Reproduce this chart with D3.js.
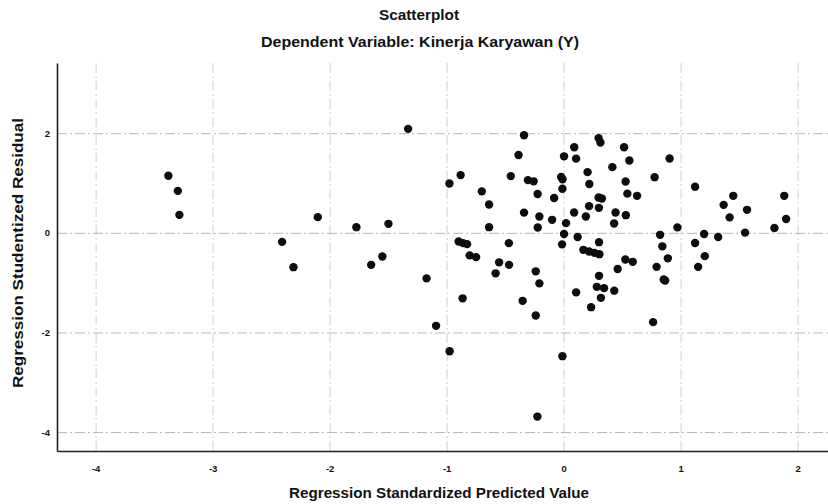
<!DOCTYPE html>
<html>
<head>
<meta charset="utf-8">
<script src="https://cdn.jsdelivr.net/npm/d3@7/dist/d3.min.js"></script>
<style>
  html, body { margin: 0; padding: 0; background: #fff; }
  svg { display: block; }
  text { font-family: "Liberation Sans", Arial, sans-serif; font-weight: bold; fill: #111; }
</style>
</head>
<body>
<svg id="chart" width="828" height="504"></svg>
<script>
// Regression Standardized Predicted Value (x) for each case
const predicted = [
  -3.378, -3.297, -3.284, -2.406, -2.309, -2.101, -1.771, -1.645, -1.549, -1.497,
  -1.329, -1.171, -1.090, -0.974, -0.976, -0.880, -0.897, -0.859, -0.825, -0.803,
  -0.748, -0.863, -0.699, -0.637, -0.637, -0.581, -0.551, -0.466, -0.468, -0.451,
  -0.385, -0.338, -0.338, -0.350, -0.305, -0.256, -0.222, -0.207, -0.221, -0.238,
  -0.207, -0.238, -0.224, -0.098, -0.081, -0.021, -0.009, -0.010, 0.004, 0.021,
  0.004, -0.013, -0.010, 0.090, 0.091, 0.107, 0.120, 0.107, 0.190, 0.205,
  0.220, 0.218, 0.169, 0.218, 0.263, 0.306, 0.235, 0.299, 0.315, 0.299,
  0.327, 0.302, 0.303, 0.303, 0.284, 0.346, 0.319, 0.417, 0.444, 0.432,
  0.433, 0.462, 0.517, 0.562, 0.530, 0.545, 0.628, 0.532, 0.528, 0.591,
  0.778, 0.906, 0.825, 0.844, 0.891, 0.795, 0.868, 0.856, 0.765, 0.973,
  1.124, 1.124, 1.201, 1.207, 1.150, 1.321, 1.368, 1.419, 1.450, 1.568,
  1.551, 1.802, 1.886, 1.902
];

// Regression Studentized Residual (y) for each case
const residual = [
  1.145, 0.843, 0.361, -0.181, -0.689, 0.315, 0.114, -0.643, -0.476, 0.181,
  2.088, -0.914, -1.867, -2.376, 0.990, 1.159, -0.175, -0.207, -0.227, -0.452,
  -0.488, -1.315, 0.833, 0.568, 0.114, -0.813, -0.592, -0.643, -0.207, 1.139,
  1.562, 1.958, 0.406, -1.365, 1.058, 1.034, 0.779, 0.327, 0.106, -0.773,
  -1.014, -1.661, -3.689, 0.261, 0.699, 1.120, 1.075, 0.884, 1.536, 0.195,
  -0.024, -0.231, -2.476, 0.408, 1.717, 1.490, -0.084, -1.195, 0.327, 1.219,
  0.980, 0.536, -0.341, -0.376, -0.402, -0.428, -1.492, 1.902, 1.813, 0.709,
  0.689, 0.502, -0.187, -0.863, -1.084, -1.110, -1.305, 1.319, 0.408, 0.187,
  -1.161, -0.727, 1.717, 1.452, 1.030, 0.787, 0.743, 0.355, -0.536, -0.582,
  1.118, 1.492, -0.040, -0.271, -0.512, -0.683, -0.958, -0.935, -1.793, 0.110,
  0.924, -0.205, -0.024, -0.468, -0.683, -0.084, 0.562, 0.311, 0.743, 0.462,
  0.004, 0.096, 0.743, 0.277
];

const xTicks = [-4, -3, -2, -1, 0, 1, 2];
const yTicks = [-4, -2, 0, 2];

const chartTitle = "Scatterplot";
const chartSubtitle = "Dependent Variable: Kinerja Karyawan (Y)";
const xTitle = "Regression Standardized Predicted Value";
const yTitle = "Regression Studentized Residual";

const points = predicted.map((p, i) => ({ x: p, y: residual[i] }));

const svg = d3.select("#chart");
const plot = { left: 57, right: 828, top: 63, bottom: 451 };

const x = d3.scaleLinear().domain([-4.33, 2.26]).range([plot.left, plot.right]);
const y = d3.scaleLinear().domain([-4.38, 3.41]).range([plot.bottom, plot.top]);

// Reference grid: dash-dot lines at every tick
const gridDash = "10,3,2,3";

svg.append("g")
  .attr("transform", `translate(0,${plot.bottom})`)
  .call(d3.axisBottom(x).tickValues(xTicks).tickSize(-(plot.bottom - plot.top)).tickFormat(""))
  .call(g => g.select(".domain").remove())
  .call(g => g.selectAll(".tick line")
    .attr("stroke", "#a8a8a8").attr("stroke-width", 0.9)
    .attr("stroke-dasharray", gridDash).attr("opacity", 0.6));

svg.append("g")
  .attr("transform", `translate(${plot.left},0)`)
  .call(d3.axisLeft(y).tickValues(yTicks).tickSize(-(plot.right - plot.left)).tickFormat(""))
  .call(g => g.select(".domain").remove())
  .call(g => g.selectAll(".tick line")
    .attr("stroke", "#999").attr("stroke-width", 1)
    .attr("stroke-dasharray", gridDash).attr("opacity", 0.7));

// Axes with labels
svg.append("g")
  .attr("transform", `translate(0,${plot.bottom})`)
  .call(d3.axisBottom(x).tickValues(xTicks).tickSize(0).tickPadding(14).tickFormat(d => String(d)))
  .call(g => g.select(".domain").attr("stroke", "#222").attr("stroke-width", 1.6))
  .call(g => g.selectAll(".tick text").attr("font-size", 9.5).attr("font-family", "Liberation Sans, Arial, sans-serif").attr("font-weight", "bold").attr("fill", "#111"));

svg.append("g")
  .attr("transform", `translate(${plot.left},0)`)
  .call(d3.axisLeft(y).tickValues(yTicks).tickSize(0).tickPadding(7).tickFormat(d => String(d)))
  .call(g => g.select(".domain").attr("stroke", "#222").attr("stroke-width", 1.6))
  .call(g => g.selectAll(".tick text").attr("font-size", 9.5).attr("font-family", "Liberation Sans, Arial, sans-serif").attr("font-weight", "bold").attr("fill", "#111"));

// Data points
svg.append("g")
  .selectAll("circle")
  .data(points)
  .join("circle")
  .attr("cx", d => x(d.x))
  .attr("cy", d => y(d.y))
  .attr("r", 4.2)
  .attr("fill", "#0d0d0d");

// Titles
svg.append("text")
  .attr("x", 419).attr("y", 20)
  .attr("text-anchor", "middle")
  .attr("font-size", 14.5)
  .attr("textLength", 80).attr("lengthAdjust", "spacingAndGlyphs")
  .text(chartTitle);

svg.append("text")
  .attr("x", 420).attr("y", 47)
  .attr("text-anchor", "middle")
  .attr("font-size", 14.5)
  .attr("textLength", 318).attr("lengthAdjust", "spacingAndGlyphs")
  .text(chartSubtitle);

svg.append("text")
  .attr("x", 439).attr("y", 498)
  .attr("text-anchor", "middle")
  .attr("font-size", 15)
  .attr("textLength", 300).attr("lengthAdjust", "spacingAndGlyphs")
  .text(xTitle);

svg.append("text")
  .attr("transform", "translate(23,253) rotate(-90)")
  .attr("text-anchor", "middle")
  .attr("font-size", 15)
  .attr("textLength", 270).attr("lengthAdjust", "spacingAndGlyphs")
  .text(yTitle);
</script>
</body>
</html>
